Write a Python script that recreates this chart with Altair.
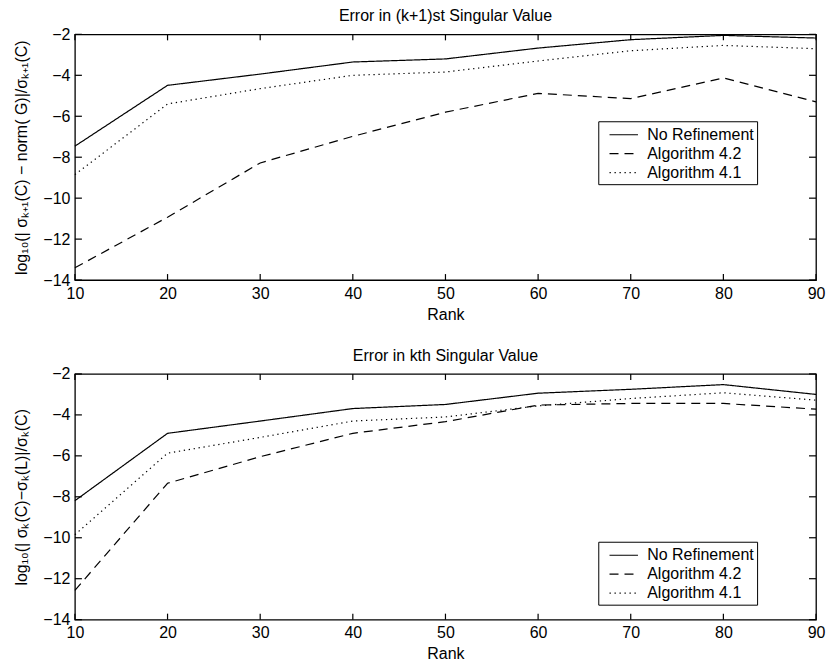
import altair as alt
import pandas as pd

ranks = [10, 20, 30, 40, 50, 60, 70, 80, 90]
series_names = ["No Refinement", "Algorithm 4.2", "Algorithm 4.1"]

# Top panel: error in (k+1)st singular value
top_none = [-7.46, -4.49, -3.94, -3.35, -3.2, -2.67, -2.26, -2.05, -2.18]
top_alg42 = [-13.4, -10.93, -8.28, -6.98, -5.8, -4.88, -5.14, -4.13, -5.3]
top_alg41 = [-8.85, -5.4, -4.65, -4.0, -3.84, -3.3, -2.8, -2.54, -2.7]

# Bottom panel: error in kth singular value
bot_none = [-8.19, -4.9, -4.3, -3.69, -3.49, -2.94, -2.75, -2.52, -3.0]
bot_alg42 = [-12.57, -7.34, -6.04, -4.9, -4.33, -3.52, -3.44, -3.44, -3.72]
bot_alg41 = [-9.85, -5.87, -5.1, -4.3, -4.1, -3.56, -3.2, -2.92, -3.28]

x_ticks = [10, 20, 30, 40, 50, 60, 70, 80, 90]
y_ticks = [-14, -12, -10, -8, -6, -4, -2]

titles = ["Error in (k+1)st Singular Value", "Error in kth Singular Value"]
y_titles = ["log\u2081\u2080(| \u03c3\u2096\u208a\u2081(C) \u2212 norm( G)|/\u03c3\u2096\u208a\u2081(C)",
            "log\u2081\u2080(| \u03c3\u2096(C)\u2212\u03c3\u2096(L)|/\u03c3\u2096(C)"]

W, H = 742, 246
FONT = "Liberation Sans"


def long_df(a, b, c):
    rows = []
    for name, vals in zip(series_names, [a, b, c]):
        for r, v in zip(ranks, vals):
            rows.append({"rank": r, "value": v, "series": name})
    return pd.DataFrame(rows)


def panel(df, title, ytitle, legend_y):
    xs = alt.Scale(domain=[10, 90], nice=False, zero=False)
    ys = alt.Scale(domain=[-14, -2], nice=False, zero=False)
    lines = alt.Chart(df).mark_line(color="black", strokeWidth=1.2).encode(
        x=alt.X("rank:Q", scale=xs, title="Rank",
                axis=alt.Axis(values=x_ticks, ticks=False, domain=False, grid=False,
                              labelPadding=5, titlePadding=5, labelFlush=False)),
        y=alt.Y("value:Q", scale=ys, title=ytitle,
                axis=alt.Axis(values=y_ticks, ticks=False, domain=False, grid=False,
                              labelPadding=5, titlePadding=13, labelFlush=False)),
        strokeDash=alt.StrokeDash(
            "series:N",
            scale=alt.Scale(domain=series_names, range=[[1, 0], [9, 6], [1.3, 3.7]]),
            sort=series_names,
            legend=alt.Legend(title=None, orient="none", legendX=524, legendY=legend_y,
                              strokeColor="black", fillColor="white", padding=3,
                              symbolType="M-1.5,0L1.5,0", symbolSize=361, symbolStrokeWidth=1.2,
                              symbolOffset=12,
                              symbolStrokeColor="black", labelFontSize=16, labelFont=FONT,
                              labelColor="black", rowPadding=0, labelOffset=13)),
        detail="series:N",
    )
    tx = pd.DataFrame({"t": x_ticks})
    ty = pd.DataFrame({"t": y_ticks})
    tick_style = dict(color="black", strokeWidth=1.2)
    xt_bot = alt.Chart(tx).mark_rule(**tick_style).encode(
        x=alt.X("t:Q", scale=xs), y=alt.value(H - 6), y2=alt.value(H))
    xt_top = alt.Chart(tx).mark_rule(**tick_style).encode(
        x=alt.X("t:Q", scale=xs), y=alt.value(0), y2=alt.value(6))
    yt_left = alt.Chart(ty).mark_rule(**tick_style).encode(
        y=alt.Y("t:Q", scale=ys), x=alt.value(0), x2=alt.value(7))
    yt_right = alt.Chart(ty).mark_rule(**tick_style).encode(
        y=alt.Y("t:Q", scale=ys), x=alt.value(W - 7), x2=alt.value(W))
    return alt.layer(lines, xt_bot, xt_top, yt_left, yt_right).properties(
        width=W, height=H,
        title=alt.TitleParams(title, fontSize=16, font=FONT, fontWeight="normal",
                              color="black", offset=2, anchor="middle"),
    )


top = panel(long_df(top_none, top_alg42, top_alg41), titles[0], y_titles[0], 87)
bot = panel(long_df(bot_none, bot_alg42, bot_alg41), titles[1], y_titles[1], 168)

chart = alt.vconcat(top, bot, spacing=24).resolve_legend(strokeDash="independent").configure(
    padding={"left": 13, "top": 7, "right": 3, "bottom": 4},
    background="white",
).configure_view(
    stroke="black", strokeWidth=1.3
).configure_axis(
    labelFont=FONT, titleFont=FONT, labelFontSize=16, titleFontSize=16,
    labelColor="black", titleColor="black", titleFontWeight="normal",
)

chart.save("out.html", embed_options={"renderer": "svg", "actions": False})
